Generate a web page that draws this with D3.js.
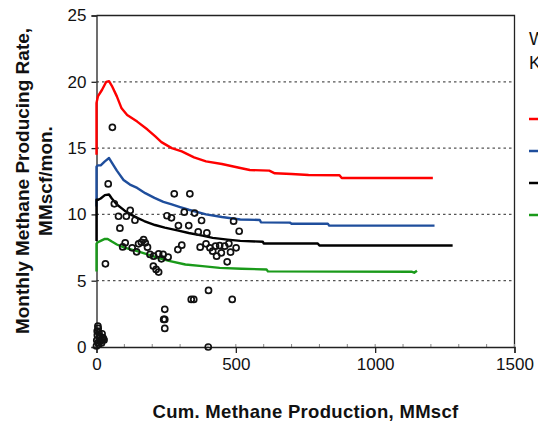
<!DOCTYPE html>
<html>
<head>
<meta charset="utf-8">
<script src="https://cdn.jsdelivr.net/npm/d3@7"></script>
<style>
  html, body { margin: 0; padding: 0; background: #fff; }
  svg { display: block; font-family: "Liberation Sans", Arial, sans-serif; }
</style>
</head>
<body>
<svg id="chart" width="538" height="423"></svg>
<script>
// Type-curve forecasts (cumulative production, MMscf vs. monthly rate, MMscf/mon.)
const redX   = [0, 0, 5, 20, 35, 45, 55, 73, 90, 110, 146, 183, 210, 233, 270, 306, 350, 393, 450, 516, 550, 620, 640, 700, 761, 872, 880, 1000, 1207];
const redY   = [14.5, 18.4, 18.9, 19.4, 20.0, 20.05, 19.7, 18.9, 18.0, 17.5, 17.0, 16.4, 15.9, 15.45, 15.0, 14.75, 14.3, 14.0, 13.8, 13.5, 13.35, 13.3, 13.1, 13.05, 12.97, 12.95, 12.75, 12.75, 12.75];
const blueX  = [0, 0, 5, 15, 30, 45, 55, 73, 97, 120, 146, 175, 208, 240, 270, 300, 331, 393, 450, 516, 586, 590, 694, 700, 830, 835, 1213];
const blueY  = [10.6, 13.6, 13.7, 13.7, 14.0, 14.25, 13.9, 13.3, 12.6, 12.25, 12.0, 11.6, 11.25, 10.95, 10.75, 10.55, 10.35, 10.0, 9.8, 9.62, 9.58, 9.4, 9.38, 9.3, 9.3, 9.15, 9.15];
const blackX = [0, 0, 5, 15, 30, 45, 55, 73, 100, 122, 150, 171, 210, 245, 290, 331, 380, 417, 470, 516, 597, 600, 794, 800, 1278];
const blackY = [8.0, 11.1, 11.1, 11.2, 11.45, 11.5, 11.2, 10.75, 10.3, 10.0, 9.7, 9.5, 9.2, 9.0, 8.8, 8.6, 8.4, 8.23, 8.1, 8.0, 7.94, 7.8, 7.8, 7.65, 7.65];
const greenX = [0, 0, 5, 15, 30, 40, 55, 73, 100, 146, 180, 220, 260, 319, 380, 442, 520, 610, 615, 1130, 1140, 1150];
const greenY = [5.7, 7.8, 7.9, 8.0, 8.15, 8.15, 7.95, 7.73, 7.5, 7.23, 7.0, 6.73, 6.5, 6.22, 6.1, 5.97, 5.9, 5.85, 5.7, 5.68, 5.6, 5.75];

// Observed well data
const wellX = [57, 42, 32, 64, 79, 84, 107, 121, 94, 103, 128, 138, 144, 151, 161, 169, 175, 183, 192, 205, 204, 214, 223, 223, 233, 239, 257, 253, 269, 279, 294, 306, 292, 315, 331, 335, 352, 377, 365, 372, 393, 396, 407, 417, 427, 431, 442, 448, 460, 469, 481, 475, 492, 501, 512,
               245, 241, 245, 245, 340, 349, 402, 487, 401,
               5, 2.5, 11, 17, 23, 5, 0, 9, 27, 14, 3, 8, 20, 12, 6, 1, 18, 25];
const wellY = [16.57, 12.3, 6.27, 10.8, 9.86, 8.96, 9.86, 10.3, 7.55, 7.86, 7.48, 9.56, 7.18, 7.78, 7.9, 8.1, 7.86, 7.53, 6.98, 6.85, 6.1, 5.85, 5.65, 7.03, 6.65, 6.98, 6.78, 9.9, 9.74, 11.55, 9.16, 7.68, 7.35, 10.17, 9.16, 11.55, 10.1, 9.54, 8.68, 7.53, 7.78, 8.6, 7.48, 7.23, 7.6, 6.85, 7.65, 7.1, 7.6, 6.42, 7.15, 7.8, 9.49, 7.48, 8.73,
               2.84, 2.08, 2.08, 1.4, 3.59, 3.59, 4.27, 3.59, 0,
               1.58, 1.2, 0.83, 0.58, 0.7, 0.33, 0.08, 1.08, 0.53, 0.45, 0.9, 0.2, 1.0, 0.7, 1.4, 0.5, 0.3, 0.6];

const xTicks = [0, 500, 1000, 1500];
const xMinorTicks = d3.range(0, 1501, 100);
const yTicks = [0, 5, 10, 15, 20, 25];
const gridValues = [5, 10, 15, 20];

const seriesColors = ["#ff0000", "#1f4e9c", "#000000", "#1a9a1a"];
const legendTitle = ["Well", "Kh"];

const svg = d3.select("#chart");
const W = 538, H = 423;
const m = { left: 96.5, right: 514.5, top: 15.5, bottom: 347 };

svg.append("rect").attr("width", W).attr("height", H).attr("fill", "#fff");

const x = d3.scaleLinear().domain([0, 1500]).range([m.left, m.right]);
const y = d3.scaleLinear().domain([0, 25]).range([m.bottom, m.top]);

// dotted horizontal grid
svg.append("g").selectAll("line").data(gridValues).join("line")
  .attr("x1", m.left).attr("x2", m.right)
  .attr("y1", d => y(d)).attr("y2", d => y(d))
  .attr("stroke", "#555").attr("stroke-width", 1.2)
  .attr("stroke-dasharray", "2.5,3");

// frame (top and right)
svg.append("path")
  .attr("d", `M${m.left},${m.top}H${m.right}V${m.bottom}`)
  .attr("fill", "none").attr("stroke", "#222").attr("stroke-width", 1.3);

// minor ticks along x axis
svg.append("g").selectAll("line").data(xMinorTicks).join("line")
  .attr("x1", d => x(d)).attr("x2", d => x(d))
  .attr("y1", m.bottom - 3).attr("y2", m.bottom)
  .attr("stroke", "#888").attr("stroke-width", 1);

// x axis
const xAxis = d3.axisBottom(x).tickValues(xTicks).tickSize(6).tickPadding(5).tickFormat(d3.format("d"));
const gx = svg.append("g").attr("transform", `translate(0,${m.bottom})`).call(xAxis);
gx.select(".domain").attr("stroke", "#222").attr("stroke-width", 1.3);
gx.selectAll(".tick line").attr("stroke", "#222").attr("stroke-width", 1.3);
gx.selectAll(".tick text").attr("font-size", 17).attr("fill", "#111")
  .attr("font-family", "Liberation Sans, Arial, sans-serif");

// y axis
const yAxis = d3.axisLeft(y).tickValues(yTicks).tickSize(5).tickPadding(5);
const gy = svg.append("g").attr("transform", `translate(${m.left},0)`).call(yAxis);
gy.select(".domain").attr("stroke", "#222").attr("stroke-width", 1.3);
gy.selectAll(".tick line").attr("stroke", "#222").attr("stroke-width", 1.3);
gy.selectAll(".tick text").attr("font-size", 17).attr("fill", "#111")
  .attr("font-family", "Liberation Sans, Arial, sans-serif");

// forecast curves
const line = d3.line().x(d => x(d[0])).y(d => y(d[1]));
const curves = [
  d3.zip(redX, redY),
  d3.zip(blueX, blueY),
  d3.zip(blackX, blackY),
  d3.zip(greenX, greenY)
];
svg.append("g").selectAll("path").data(curves).join("path")
  .attr("d", line)
  .attr("fill", "none")
  .attr("stroke", (d, i) => seriesColors[i])
  .attr("stroke-width", 2.4)
  .attr("stroke-linejoin", "round");

// observed points
svg.append("g").selectAll("circle").data(d3.zip(wellX, wellY)).join("circle")
  .attr("cx", d => x(d[0])).attr("cy", d => y(d[1]))
  .attr("r", 3)
  .attr("fill", "none").attr("stroke", "#111").attr("stroke-width", 1.7);

// axis titles
svg.append("text")
  .attr("x", (m.left + m.right) / 2 + 0).attr("y", 418)
  .attr("text-anchor", "middle")
  .attr("font-size", 18.5).attr("font-weight", "bold").attr("fill", "#111")
  .attr("letter-spacing", 0.3)
  .text("Cum. Methane Production, MMscf");

const yTitle = svg.append("text")
  .attr("transform", "translate(29,181) rotate(-90)")
  .attr("text-anchor", "middle")
  .attr("font-size", 19).attr("font-weight", "bold").attr("fill", "#111");
yTitle.append("tspan").attr("x", 0).attr("dy", 0).text("Monthly Methane Producing Rate,");
yTitle.append("tspan").attr("x", 0).attr("dy", 23).text("MMscf/mon.");

// legend (runs past the right edge)
const lg = svg.append("g");
lg.selectAll("text").data(legendTitle).join("text")
  .attr("x", 529).attr("y", (d, i) => 45 + i * 24)
  .attr("font-size", 18).attr("fill", "#111")
  .text(d => d);
lg.selectAll("line").data(seriesColors).join("line")
  .attr("x1", 529).attr("x2", 560)
  .attr("y1", (d, i) => [119, 151, 183, 215][i])
  .attr("y2", (d, i) => [119, 151, 183, 215][i])
  .attr("stroke", d => d).attr("stroke-width", 2.5);
</script>
</body>
</html>
